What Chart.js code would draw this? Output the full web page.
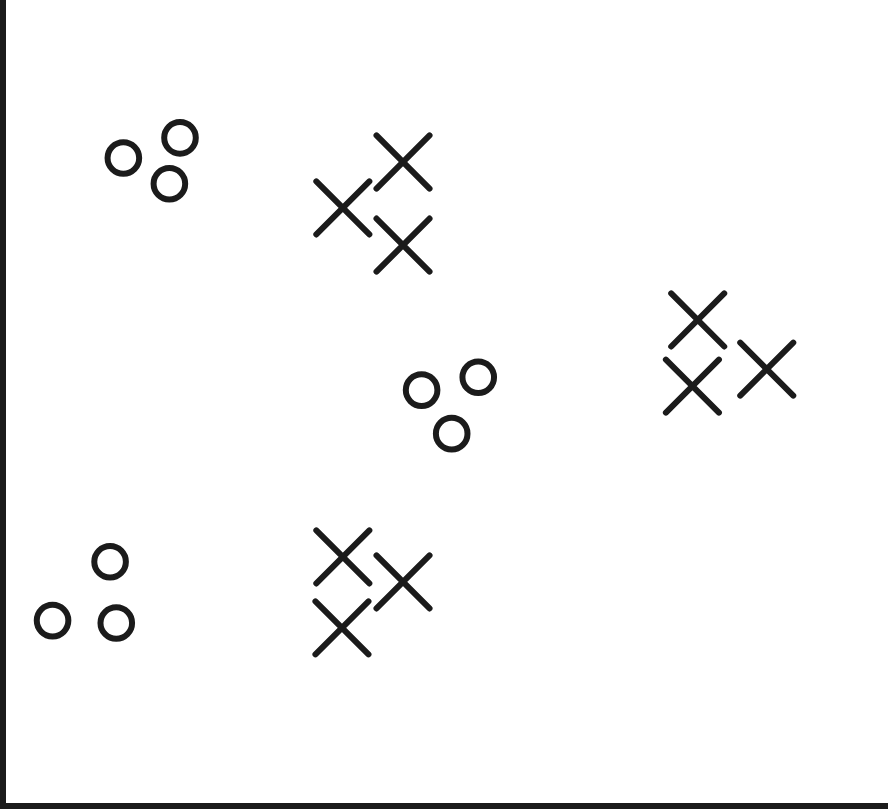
<!DOCTYPE html>
<html>
<head>
<meta charset="utf-8">
<script src="https://cdn.jsdelivr.net/npm/chart.js@4/dist/chart.umd.min.js"></script>
<style>
    html, body { margin: 0; padding: 0; background: #fff; }
    #wrap { width: 888px; height: 809px; }
</style>
</head>
<body>
<div id="wrap"><canvas id="chart"></canvas></div>
<script>
// circles (group O)
const circleX = [1.36, 2.00, 1.88, 4.73, 5.37, 5.07, 0.56, 1.21, 1.28];
const circleY = [8.04, 8.29, 7.72, 5.16, 5.32, 4.62, 2.30, 3.03, 2.27];

// crosses (group X)
const crossX = [4.52, 3.84, 4.52, 7.85, 8.63, 7.79, 3.84, 4.52, 3.83];
const crossY = [7.99, 7.42, 6.96, 6.03, 5.42, 5.21, 3.09, 2.78, 2.21];

const ink = '#1b1b1b';

const toPoints = (xs, ys) => xs.map((x, i) => ({ x: x, y: ys[i] }));

// points get round line ends like the hand drawn marks
const roundCaps = {
    id: 'roundCaps',
    beforeDatasetsDraw(chart) {
        chart.ctx.lineCap = 'round';
        chart.ctx.lineJoin = 'round';
    },
    afterDatasetsDraw(chart) {
        chart.ctx.lineCap = 'butt';
        chart.ctx.lineJoin = 'miter';
    }
};

const ctx = document.getElementById('chart').getContext('2d');

new Chart(ctx, {
    type: 'scatter',
    data: {
        datasets: [
            {
                label: 'O',
                data: toPoints(circleX, circleY),
                pointStyle: 'circle',
                pointRadius: 15.8,
                pointHoverRadius: 15.8,
                borderWidth: 6,
                borderColor: ink,
                backgroundColor: 'rgba(0,0,0,0)'
            },
            {
                label: 'X',
                data: toPoints(crossX, crossY),
                pointStyle: 'crossRot',
                pointRadius: 37.5,
                pointHoverRadius: 37.5,
                borderWidth: 6,
                borderColor: ink,
                backgroundColor: 'rgba(0,0,0,0)'
            }
        ]
    },
    options: {
        responsive: true,
        maintainAspectRatio: false,
        animation: false,
        clip: false,
        layout: {
            autoPadding: false,
            padding: { left: 3, bottom: 3, top: 0, right: 0 }
        },
        plugins: {
            legend: { display: false },
            tooltip: { enabled: false }
        },
        scales: {
            x: {
                type: 'linear',
                min: 0,
                max: 10,
                ticks: { display: false },
                grid: { display: false, drawTicks: false },
                border: { display: true, width: 6, color: ink }
            },
            y: {
                type: 'linear',
                min: 0,
                max: 10,
                ticks: { display: false },
                grid: { display: false, drawTicks: false },
                border: { display: true, width: 6, color: ink }
            }
        }
    },
    plugins: [roundCaps]
});
</script>
</body>
</html>
